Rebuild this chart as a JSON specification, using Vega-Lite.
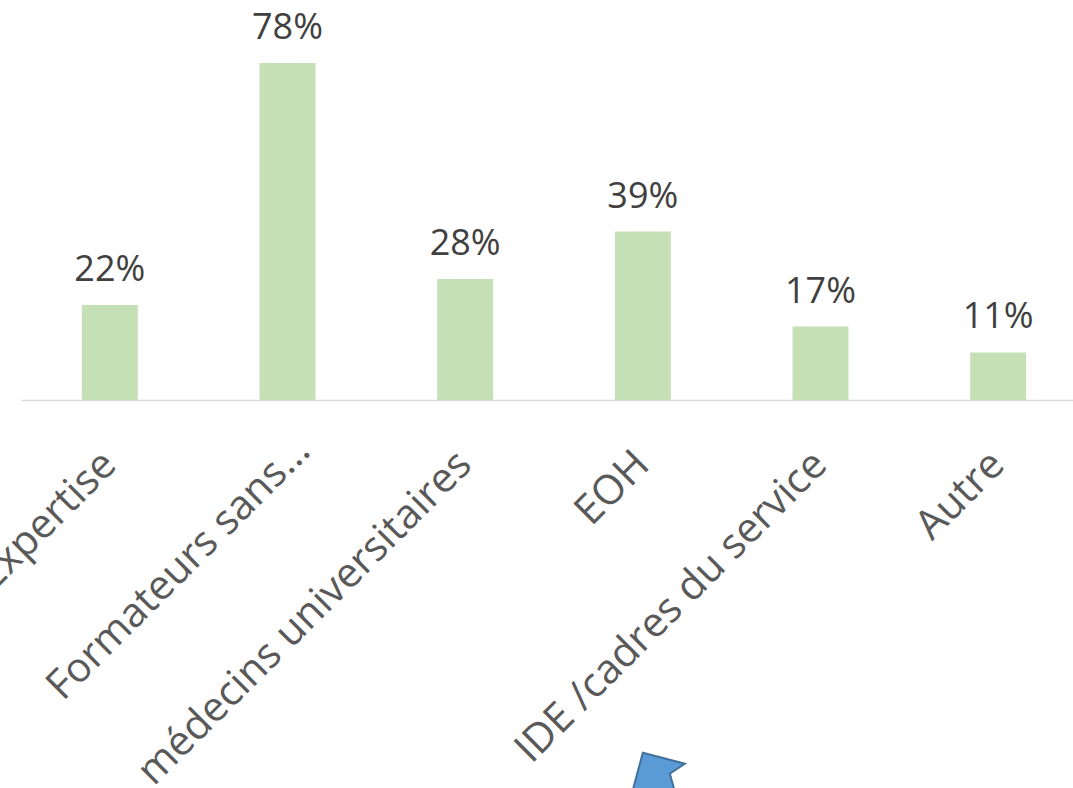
{
  "$schema": "https://vega.github.io/schema/vega-lite/v6.json",
  "autosize": {"type": "none"},
  "padding": {"left": 21, "top": 0, "right": 0, "bottom": 388},
  "width": 1066,
  "height": 400,
  "background": "white",
  "config": {"view": {"stroke": null}},
  "datasets": {
    "bars": [
      {"categorie": "Expertise", "part": 0.22},
      {"categorie": "Formateurs sans…", "part": 0.78},
      {"categorie": "médecins universitaires", "part": 0.28},
      {"categorie": "EOH", "part": 0.39},
      {"categorie": "IDE /cadres du service", "part": 0.17},
      {"categorie": "Autre", "part": 0.11}
    ],
    "fleche": [
      {"categorie": "EOH", "part": -0.856}
    ]
  },
  "layer": [
    {
      "data": {"name": "bars"},
      "mark": {"type": "bar", "color": "#C5E0B4"},
      "encoding": {
        "x": {
          "field": "categorie", "type": "nominal", "sort": null,
          "scale": {"paddingInner": 0.685, "paddingOuter": 0.3425},
          "axis": {
            "title": null, "labelAngle": -45, "labelFont": "Open Sans", "labelFontSize": 41,
            "labelColor": "#595959", "ticks": false, "domainColor": "#D9D9D9", "domainWidth": 1.5,
            "labelAlign": "right", "labelBaseline": "middle",
            "labelPadding": {"condition": {"test": "datum.value === 'Formateurs sans…'", "value": 44}, "value": 58},
            "labelOffset": {"condition": {"test": "datum.value === 'Formateurs sans…'", "value": 16}, "value": 0},
            "labelLimit": 0, "labelOverlap": false
          }
        },
        "y": {
          "field": "part", "type": "quantitative",
          "scale": {"domain": [0, 0.926], "nice": false},
          "axis": null
        }
      }
    },
    {
      "data": {"name": "bars"},
      "mark": {"type": "text", "font": "Open Sans", "fontSize": 36, "color": "#404040", "baseline": "alphabetic", "dy": -24},
      "encoding": {
        "x": {"field": "categorie", "type": "nominal", "sort": null},
        "y": {"field": "part", "type": "quantitative"},
        "text": {"field": "part", "type": "quantitative", "format": ".0%"}
      }
    },
    {
      "data": {"name": "fleche"},
      "mark": {
        "type": "point", "filled": true, "size": 10000,
        "shape": "M-0.36,1 L-0.0,-0.34 L0.84,-0.12 L0.54,0.08 L0.8,1 Z",
        "color": "#5B9BD5", "stroke": "#41719C", "strokeWidth": 2, "opacity": 1
      },
      "encoding": {
        "x": {"field": "categorie", "type": "nominal", "sort": null},
        "y": {"field": "part", "type": "quantitative"}
      }
    }
  ]
}
